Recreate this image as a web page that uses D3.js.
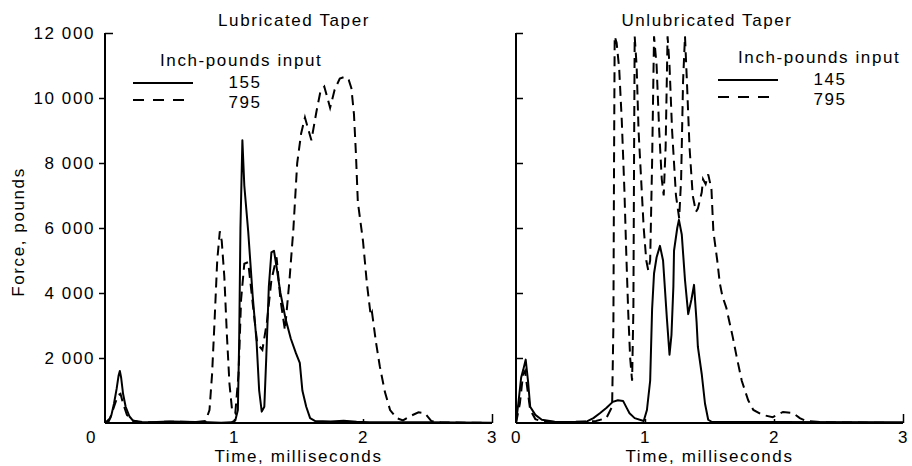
<!DOCTYPE html>
<html><head><meta charset="utf-8">
<script src="https://cdn.jsdelivr.net/npm/d3@7"></script>
<style>
body{margin:0;background:#fff;}
text{font-family:"Liberation Sans",Arial,sans-serif;font-size:17px;letter-spacing:1.6px;fill:#000;}
</style></head><body>
<svg id="c" width="912" height="466"></svg>
<script>
// ---- data (time in ms, force in pounds) ----
const panelTitles = ["Lubricated Taper", "Unlubricated Taper"];
const legendLabels = [["155", "795"], ["145", "795"]];
const xTicks = [0, 1, 2, 3];
const yTicks = [2000, 4000, 6000, 8000, 10000, 12000];

const lub155 = [[0,0],[0.03,60],[0.05,250],[0.07,600],[0.09,1050],[0.105,1450],[0.115,1600],[0.125,1400],[0.14,900],[0.16,500],[0.19,200],[0.22,60],[0.27,20],[0.4,30],[0.5,50],[0.6,40],[0.7,30],[0.8,20],[0.9,10],[0.98,20],[1.01,80],[1.03,400],[1.04,2500],[1.05,6000],[1.065,8700],[1.08,7300],[1.11,5900],[1.145,3900],[1.175,2500],[1.195,1000],[1.215,350],[1.235,500],[1.25,2000],[1.27,4200],[1.29,5250],[1.31,5300],[1.33,4800],[1.36,4000],[1.40,3200],[1.44,2600],[1.48,2150],[1.51,1850],[1.53,1000],[1.56,500],[1.59,150],[1.63,60],[1.75,50],[1.85,70],[1.95,40],[2.05,20],[2.5,20],[3,10]];

const lub795 = [[0,0],[0.04,150],[0.07,500],[0.1,850],[0.12,900],[0.14,600],[0.17,250],[0.21,80],[0.3,20],[0.5,40],[0.7,30],[0.78,60],[0.81,400],[0.83,1500],[0.85,3200],[0.87,5000],[0.89,5900],[0.905,5600],[0.925,4500],[0.945,2700],[0.965,1200],[0.985,400],[1.01,300],[1.035,1500],[1.055,3800],[1.08,4900],[1.11,4950],[1.15,3500],[1.18,2450],[1.22,2250],[1.255,3100],[1.29,4400],[1.33,5100],[1.36,3800],[1.395,2850],[1.43,4400],[1.46,5950],[1.49,8000],[1.52,8900],[1.55,9400],[1.60,8700],[1.64,9600],[1.67,10200],[1.70,10350],[1.745,9700],[1.78,10250],[1.82,10600],[1.86,10650],[1.89,10550],[1.91,10300],[1.93,9500],[1.945,8300],[1.96,6800],[2.0,5600],[2.03,4300],[2.06,3300],[2.07,3400],[2.1,2500],[2.13,1750],[2.17,950],[2.21,400],[2.26,150],[2.31,80],[2.36,200],[2.43,330],[2.48,300],[2.53,60],[2.6,20],[3,0]];

const unlub145 = [[0,0],[0.018,600],[0.04,1400],[0.057,1650],[0.075,1950],[0.093,1300],[0.11,500],[0.15,250],[0.2,100],[0.3,40],[0.45,30],[0.55,50],[0.6,150],[0.65,300],[0.70,460],[0.75,650],[0.79,700],[0.83,680],[0.86,450],[0.88,300],[0.92,150],[0.99,60],[1.015,400],[1.04,1300],[1.055,3500],[1.07,4600],[1.09,5100],[1.116,5450],[1.14,5000],[1.17,3200],[1.19,2100],[1.205,2700],[1.22,4200],[1.225,5300],[1.25,6000],[1.263,6250],[1.285,5800],[1.31,4400],[1.335,3350],[1.36,3800],[1.38,4250],[1.40,3100],[1.41,2340],[1.44,1500],[1.465,600],[1.49,100],[1.52,30],[2,30],[3,20]];

const unlub795 = [[0,0],[0.03,600],[0.055,1500],[0.07,1600],[0.09,1000],[0.11,400],[0.15,120],[0.2,50],[0.35,20],[0.5,40],[0.62,60],[0.7,150],[0.745,500],[0.755,3000],[0.76,8000],[0.765,11900],[0.78,11700],[0.80,10900],[0.82,9300],[0.84,7200],[0.855,5200],[0.87,3400],[0.885,2000],[0.9,1300],[0.91,3500],[0.915,8000],[0.92,11900],[0.935,11000],[0.95,9000],[0.97,7500],[0.99,6000],[1.01,5000],[1.025,4700],[1.04,5000],[1.055,8000],[1.07,11900],[1.09,11000],[1.11,9000],[1.13,7500],[1.145,7000],[1.16,8500],[1.175,11900],[1.19,11000],[1.21,9000],[1.24,7000],[1.265,6300],[1.28,7500],[1.295,10500],[1.31,11900],[1.325,10500],[1.345,8500],[1.37,7000],[1.395,6500],[1.41,6600],[1.44,7100],[1.45,7500],[1.47,7350],[1.49,7650],[1.515,7200],[1.53,5900],[1.56,5000],[1.58,4300],[1.60,3900],[1.63,3550],[1.68,2650],[1.71,2050],[1.75,1300],[1.80,700],[1.84,400],[1.91,250],[1.99,180],[2.07,340],[2.15,300],[2.2,150],[2.25,60],[2.4,20],[3,0]];

const panels = [
  {title: panelTitles[0], solid: lub155, dashed: lub795, labels: legendLabels[0], x0: 105, yLabels: true,
   titleX: 294, legX: 133, legTitleX: 160, legY: 66},
  {title: panelTitles[1], solid: unlub145, dashed: unlub795, labels: legendLabels[1], x0: 516, yLabels: false,
   titleX: 707, legX: 718, legTitleX: 738, legY: 63}
];

const svg = d3.select("#c");
const W = 387, plotTop = 33, plotBottom = 423;
const y = d3.scaleLinear().domain([0, 12000]).range([plotBottom, plotTop]);
const fmt = v => d3.format(",")(v).replace(",", " ");

panels.forEach((p, i) => {
  const x = d3.scaleLinear().domain([0, 3]).range([p.x0, p.x0 + W]);
  const g = svg.append("g");

  // y axis
  const ya = g.append("g").attr("transform", `translate(${p.x0},0)`)
    .call(p.yLabels ? d3.axisLeft(y).tickValues(yTicks).tickSize(6).tickPadding(4).tickFormat(fmt)
                    : d3.axisLeft(y).tickValues(yTicks).tickSize(-7).tickFormat(""));
  ya.select(".domain").attr("d", `M0,${y(12000)}V${y(0)}`).attr("stroke-width", 2);
  ya.selectAll(".tick line").attr("stroke-width", 1.5);
  ya.selectAll(".tick text").attr("font-size", null).attr("font-family", null);
  if (p.yLabels) ya.selectAll(".tick").filter(d => d === 12000).select("line").attr("x2", 8);

  // x axis
  const xa = g.append("g").attr("transform", `translate(0,${plotBottom})`)
    .call(d3.axisBottom(x).tickValues(xTicks).tickSize(-5).tickPadding(8).tickFormat(d3.format("d")));
  xa.select(".domain").attr("d", `M${x(0)},0H${x(3)}`).attr("stroke-width", 2);
  xa.selectAll(".tick line").attr("stroke-width", 1.5).attr("y2", d => d === 3 ? -9 : (d === 0 ? 0 : -4));
  xa.selectAll(".tick text").attr("font-size", null).attr("font-family", null)
    .attr("dx", d => (p.yLabels && d === 0) ? -14 : 0);

  const line = d3.line().x(d => x(d[0])).y(d => y(d[1]));
  g.append("path").datum(p.dashed).attr("d", line).attr("fill", "none").attr("stroke", "#000")
    .attr("stroke-width", 2).attr("stroke-dasharray", "10,6");
  g.append("path").datum(p.solid).attr("d", line).attr("fill", "none").attr("stroke", "#000")
    .attr("stroke-width", 2).attr("stroke-linejoin", "round");

  // title
  g.append("text").attr("x", p.titleX).attr("y", 26).attr("text-anchor", "middle").text(p.title);
  // legend
  g.append("text").attr("x", p.legTitleX).attr("y", p.legY).text("Inch-pounds input");
  g.append("line").attr("x1", p.legX).attr("x2", p.legX + 60).attr("y1", p.legY + 17).attr("y2", p.legY + 17)
    .attr("stroke", "#000").attr("stroke-width", 2);
  g.append("line").attr("x1", p.legX).attr("x2", p.legX + 53).attr("y1", p.legY + 34).attr("y2", p.legY + 34)
    .attr("stroke", "#000").attr("stroke-width", 2).attr("stroke-dasharray", "11,9");
  g.append("text").attr("x", p.legX + 112).attr("y", p.legY + 22).attr("text-anchor", "middle").text(p.labels[0]);
  g.append("text").attr("x", p.legX + 112).attr("y", p.legY + 42).attr("text-anchor", "middle").text(p.labels[1]);

  // x label
  g.append("text").attr("x", x(1.5)).attr("y", 462).attr("text-anchor", "middle").text("Time, milliseconds");
});

svg.append("text").attr("transform", "translate(24,232) rotate(-90)").attr("text-anchor", "middle").text("Force, pounds");
</script>
</body></html>
